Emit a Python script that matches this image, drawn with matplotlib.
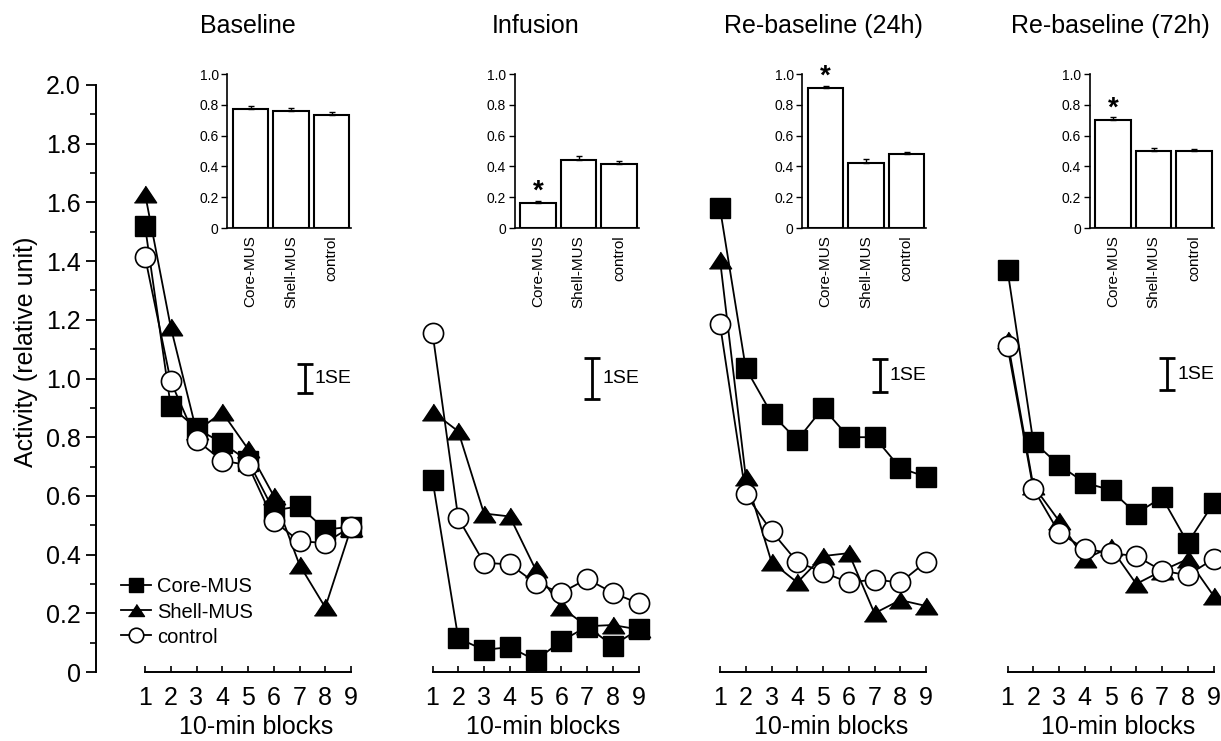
import matplotlib
matplotlib.use("Agg")
import matplotlib.pyplot as plt
import numpy as np

plt.rcParams['font.family'] = ['Liberation Sans', 'DejaVu Sans']

# ---------------- data ----------------
blocks = [1, 2, 3, 4, 5, 6, 7, 8, 9]
panel_titles = ["Baseline", "Infusion", "Re-baseline (24h)", "Re-baseline (72h)"]
series_names = ["Core-MUS", "Shell-MUS", "control"]

core_mus = [
    [1.52, 0.905, 0.83, 0.78, 0.72, 0.55, 0.565, 0.485, 0.495],
    [0.655, 0.115, 0.075, 0.085, 0.04, 0.105, 0.155, 0.09, 0.145],
    [1.58, 1.035, 0.88, 0.79, 0.90, 0.80, 0.80, 0.695, 0.665],
    [1.37, 0.785, 0.705, 0.645, 0.62, 0.54, 0.595, 0.44, 0.575],
]
shell_mus = [
    [1.63, 1.175, 0.82, 0.885, 0.76, 0.60, 0.365, 0.22, 0.49],
    [0.887, 0.82, 0.54, 0.53, 0.35, 0.22, 0.156, 0.16, 0.145],
    [1.405, 0.665, 0.375, 0.305, 0.395, 0.405, 0.20, 0.245, 0.225],
    [1.13, 0.635, 0.515, 0.385, 0.425, 0.30, 0.345, 0.385, 0.26],
]
control = [
    [1.415, 0.99, 0.79, 0.72, 0.705, 0.515, 0.445, 0.44, 0.495],
    [1.156, 0.524, 0.372, 0.367, 0.303, 0.27, 0.317, 0.27, 0.234],
    [1.185, 0.605, 0.48, 0.375, 0.34, 0.305, 0.315, 0.305, 0.375],
    [1.11, 0.625, 0.475, 0.42, 0.405, 0.395, 0.345, 0.33, 0.385],
]

# inset bar means and SEM
bar_means = [
    [0.77, 0.76, 0.735],
    [0.165, 0.44, 0.418],
    [0.908, 0.425, 0.483],
    [0.70, 0.50, 0.50],
]
bar_err = [
    [0.022, 0.02, 0.018],
    [0.008, 0.026, 0.014],
    [0.013, 0.02, 0.008],
    [0.018, 0.018, 0.012],
]
# significance star (bar index, or None)
star_bar = [None, 0, 0, 0]

# 1SE scale bars (low, high)
se_low = [0.95, 0.93, 0.955, 0.96]
se_high = [1.05, 1.07, 1.065, 1.07]

y_ticks = [0, 0.2, 0.4, 0.6, 0.8, 1.0, 1.2, 1.4, 1.6, 1.8, 2.0]
y_ticklabels = ["0", "0.2", "0.4", "0.6", "0.8", "1.0", "1.2", "1.4", "1.6", "1.8", "2.0"]
inset_ticks = [0, 0.2, 0.4, 0.6, 0.8, 1.0]
inset_ticklabels = ["0", "0.2", "0.4", "0.6", "0.8", "1.0"]

# ---------------- figure ----------------
W, H = 1221, 741
fig = plt.figure(figsize=(W / 100, H / 100), dpi=100)

def fr(left_px, top_px, w_px, h_px):
    return [left_px / W, (H - top_px - h_px) / H, w_px / W, h_px / H]

tri = [(-1, -0.75), (1, -0.75), (0, 0.75)]
styles = [
    dict(marker='s', ms=14.5, mfc='black', mec='black', mew=1.0, zorder=4),
    dict(marker=tri, ms=16, mfc='black', mec='black', mew=1.0, zorder=3),
    dict(marker='o', ms=14.5, mfc='white', mec='black', mew=1.2, zorder=5),
]

xl0, xl1 = 0.4, 9.4
px_per = 25.75
main_w = (xl1 - xl0) * px_per
for i in range(4):
    left = 145 - (1 - xl0) * px_per + 287.5 * i
    ax = fig.add_axes(fr(left, 85, main_w, 587))
    ax.set_xlim(xl0, xl1)
    ax.set_ylim(0, 2.0)
    ax.patch.set_alpha(0)
    for sp in ['top', 'right']:
        ax.spines[sp].set_visible(False)
    ax.spines['bottom'].set_bounds(1, 9)
    ax.spines['bottom'].set_linewidth(1.4)
    ax.set_xticks(blocks)
    ax.set_xticklabels([str(b) for b in blocks])
    ax.tick_params(axis='x', direction='in', length=4, width=1.2, pad=10,
                   labelsize=18)
    if i == 0:
        ax.spines['left'].set_position(('outward', 24))
        ax.spines['left'].set_linewidth(1.4)
        ax.set_yticks(y_ticks)
        ax.set_yticklabels(y_ticklabels)
        ax.set_yticks(np.arange(0.1, 2.0, 0.2), minor=True)
        ax.tick_params(axis='y', which='major', direction='out', length=7,
                       width=1.3, labelsize=18, pad=4)
        ax.tick_params(axis='y', which='minor', direction='out', length=4,
                       width=1.2)
    else:
        ax.spines['left'].set_visible(False)
        ax.set_yticks([])
    # x-axis label placed just above the bottom edge
    ax.text(5.3, -0.21, "10-min blocks", ha='center', va='baseline',
            fontsize=18, clip_on=False)

    data = [core_mus[i], shell_mus[i], control[i]]
    order = [1, 0, 2]
    for k in order:
        ax.plot(blocks, data[k], color='black', lw=1.3, clip_on=False,
                label=series_names[k], **styles[k])

    ax.text(5, 2.2, panel_titles[i], ha='center', va='center', fontsize=18)

    # 1SE bar
    sc = (se_low[i] + se_high[i]) / 2
    sh = (se_high[i] - se_low[i]) / 2
    ax.errorbar([7.2], [sc], yerr=[sh], fmt='none', ecolor='black',
                elinewidth=2.0, capsize=5.5, capthick=2.0)
    ax.text(7.6, sc, "1SE", ha='left', va='center', fontsize=14)

    if i == 0:
        handles, labels = ax.get_legend_handles_labels()
        hmap = dict(zip(labels, handles))
        fig.legend([hmap[n] for n in series_names], series_names,
                   loc='center left', bbox_to_anchor=(121 / W, 1 - 612 / H),
                   frameon=False, fontsize=14.5, handlelength=1.5,
                   handletextpad=0.3, labelspacing=0.3, markerscale=0.72,
                   borderpad=0, borderaxespad=0)

    # inset bar chart
    axi = fig.add_axes(fr(227 + 287.5 * i, 74, 124, 154))
    xs = np.arange(3)
    axi.bar(xs, bar_means[i], width=0.88, color='white', edgecolor='black',
            linewidth=1.5, zorder=2)
    axi.errorbar(xs, bar_means[i], yerr=[np.zeros(3), bar_err[i]], fmt='none',
                 ecolor='black', elinewidth=1.0, capsize=2.5, capthick=1.0,
                 zorder=3)
    axi.set_xlim(-0.58, 2.48)
    axi.set_ylim(0, 1.0)
    for sp in ['top', 'right']:
        axi.spines[sp].set_visible(False)
    axi.spines['left'].set_linewidth(1.2)
    axi.spines['bottom'].set_linewidth(1.2)
    axi.set_yticks(inset_ticks)
    axi.set_yticklabels(inset_ticklabels)
    axi.tick_params(axis='y', direction='out', length=4, width=1.0,
                    labelsize=10, pad=2)
    axi.set_xticks(xs)
    axi.set_xticklabels(series_names, rotation=90, fontsize=11)
    axi.tick_params(axis='x', length=0, pad=5)
    axi.patch.set_alpha(0)
    if star_bar[i] is not None:
        b = star_bar[i]
        axi.text(b, bar_means[i][b] + bar_err[i][b] + 0.06, "*", ha='center',
                 va='center', fontsize=20, fontweight='bold', clip_on=False)

fig.text(26 / W, 1 - 352 / H, "Activity (relative unit)", rotation=90,
         ha='center', va='center', fontsize=18)

fig.savefig("out.png", dpi=100)
